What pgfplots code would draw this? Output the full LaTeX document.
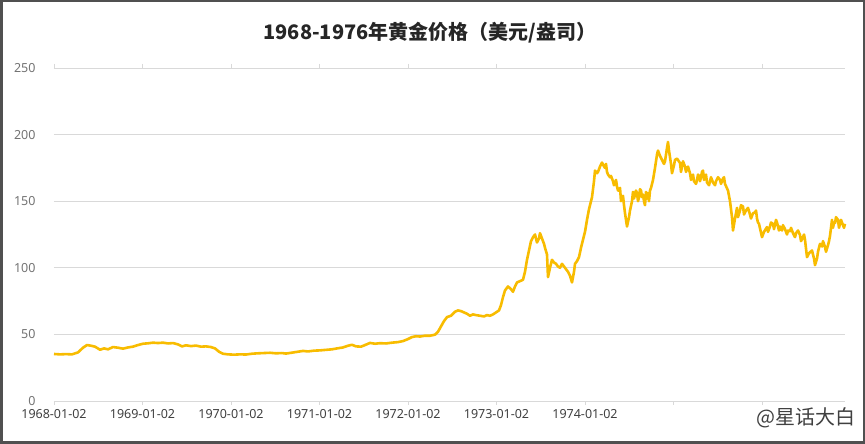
\documentclass[border=0pt]{standalone}
\usepackage{fontspec}
\setmainfont{Noto Sans}
\newfontfamily\cjk{Noto Sans CJK SC}
\usepackage{pgfplots}
\pgfplotsset{compat=1.18}
\definecolor{goldc}{RGB}{248,188,0}
\definecolor{gridc}{RGB}{217,217,217}
\definecolor{ytxt}{RGB}{115,115,115}
\definecolor{xtxt}{RGB}{64,64,64}
\definecolor{framec}{RGB}{80,80,80}
\begin{document}
\begin{tikzpicture}[x=1pt,y=1pt]
\path[use as bounding box] (0,0) rectangle (865,444);
\fill[white] (0,0) rectangle (865,444);
\draw[line width=2.5pt, color=framec] (1.25,1.25) rectangle (863.75,442.75);
\node[font=\cjk\bfseries\fontsize{20}{24}\selectfont, text=black!85] at (430,411) {1968-1976年黄金价格（美元/盎司）};
\node[font=\cjk\fontsize{20}{23}\selectfont, text=black!75] at (806,26) {@星话大白};
\begin{axis}[
  at={(54pt,43pt)}, anchor=south west,
  scale only axis, width=791pt, height=333pt,
  xmin=0, xmax=791, ymin=0, ymax=250,
  axis line style={draw=none},
  ytick={0,50,100,150,200,250},
  ymajorgrids, grid style={draw=gridc, line width=0.9pt},
  ytick style={draw=none},
  xtick={0,88.5,177,265.5,354,442.5,531,619.5,708},
  xticklabels={1968-01-02,1969-01-02,1970-01-02,1971-01-02,1972-01-02,1973-01-02,1974-01-02,{},{}},
  xtick style={draw=gridc, line width=0.8pt},
  tick align=outside, major tick length=4pt,
  xticklabel style={font=\fontsize{12.5}{14}\selectfont, text=xtxt, yshift=-1pt},
  yticklabel style={font=\fontsize{12.5}{14}\selectfont, text=ytxt, xshift=-11pt},
  /pgf/number format/assume math mode=true,
  clip=false,
]
\addplot[color=goldc, line width=2.6pt, line join=round, no markers] table {
x y
0 35.3
6 35.0
12 35.2
18 35.0
24 36.5
29 40
33 42
37 41.5
41 40.8
46 38.5
50 39.5
54 38.8
59 40.5
64 40
69 39.3
74 40.2
79 40.8
84 42
89 43
94 43.3
99 43.8
104 43.5
109 43.8
114 43.2
119 43.5
124 42.5
128 41
132 41.8
137 41.2
142 41.6
147 40.8
152 41
157 40.5
161 39.5
165 37
169 35.5
174 35
180 34.8
186 35
192 34.9
198 35.5
204 35.8
210 36
216 36.2
222 35.8
228 36
232 35.6
238 36.3
244 37
249 37.6
254 37.2
260 37.8
266 38
272 38.4
278 38.8
284 39.6
289 40.2
294 41.5
298 42.2
302 41
307 40.8
311 42
316 43.6
321 43
326 43.4
332 43.2
338 43.8
344 44.2
349 45
354 46.5
358 48
362 48.6
366 48.4
371 49
376 49
381 49.8
384 52
387 56
390 60
393 63
397 64
401 67
404 68
407 67.5
410 66.5
413 65.5
416 64
419 65
422 64.5
426 64
430 63.5
433 64.5
436 64
439 65
442 66.5
445 68
447 72
449 78
451 83
454 86
457 84
459 82
461 86
463 89
466 90
469 91
471 97
473 106
475 113
477 120
479 123
481 125
483 119
485 122
486 126
488 122
490 118
491 115
493 110
494 93
496 100
498 106
500 104
502 103
504 101
506 100
508 103
510 101
512 99
514 97
516 94
518 89
520 97
521 103
523 105
525 108
527 115
529 121
531 127
533 136
535 144
537 150
538 153
540 165
541 173
543 171
544 172
546 176
548 179
550 176
551 175
552 178
553 172
554 170
556 168
557 169
559 165
560 162
561 163
562 166
563 161
564 158
565 158
566 160
567 150
568 153
569 154
570 147
571 141
573 131
575 138
576 143
578 150
579 157
580 152
581 155
582 158
583 156
584 150
585 153
586 159
587 158
588 153
589 155
590 150
591 147
592 157
593 152
594 156
595 150
596 158
597 160
599 166
601 175
603 185
604 188
606 184
608 181
610 178
611 180
613 190
614 194.5
615 188
617 178
618 171
620 177
621 181
623 182
626 178.7
627 172
628 176
629 180
631 176
632 172
633 174
634 176
636 171
637 166
638 168
639 170
640 165
642 163
643 166
644 170
645 169
646 165
647 168
648 172
649 173
650 166
651 168
652 170
653 164
655 162
656 165
657 168
659 164
661 162
662 165
664 168
666 166
667 163
669 167
670 168
671 163
674 158
676 150
678 138
679 128
681 137
683 145
684 138
686 143
687 147
689 146
690 140
692 143
694 145
696 140
697 137
699 141
701 141.5
702 143
703 137
704 134
705 133
708 123
710 127
713 130.6
714 127
716 131
717 134
719 133
720 129
722 136
723 134
725 128
726 131
728 128
729 132
731 129
733 125
734 128
736 127.5
737 130
739 126
741 123
742 126
744 128
746 124.6
747 120
749 123
750 125
751 121
753 108
755 111
758 113
760 107
761 102
763 107
764 112
766 118
768 116
769 120
771 115.6
772 112
774 117
775 120
776 124
778 136
779 130
780 134
781 133.6
782 138
783 137
784 136
785 130
786 133
787 136
789 132
790 130
791 133
};
\end{axis}
\end{tikzpicture}
\end{document}
